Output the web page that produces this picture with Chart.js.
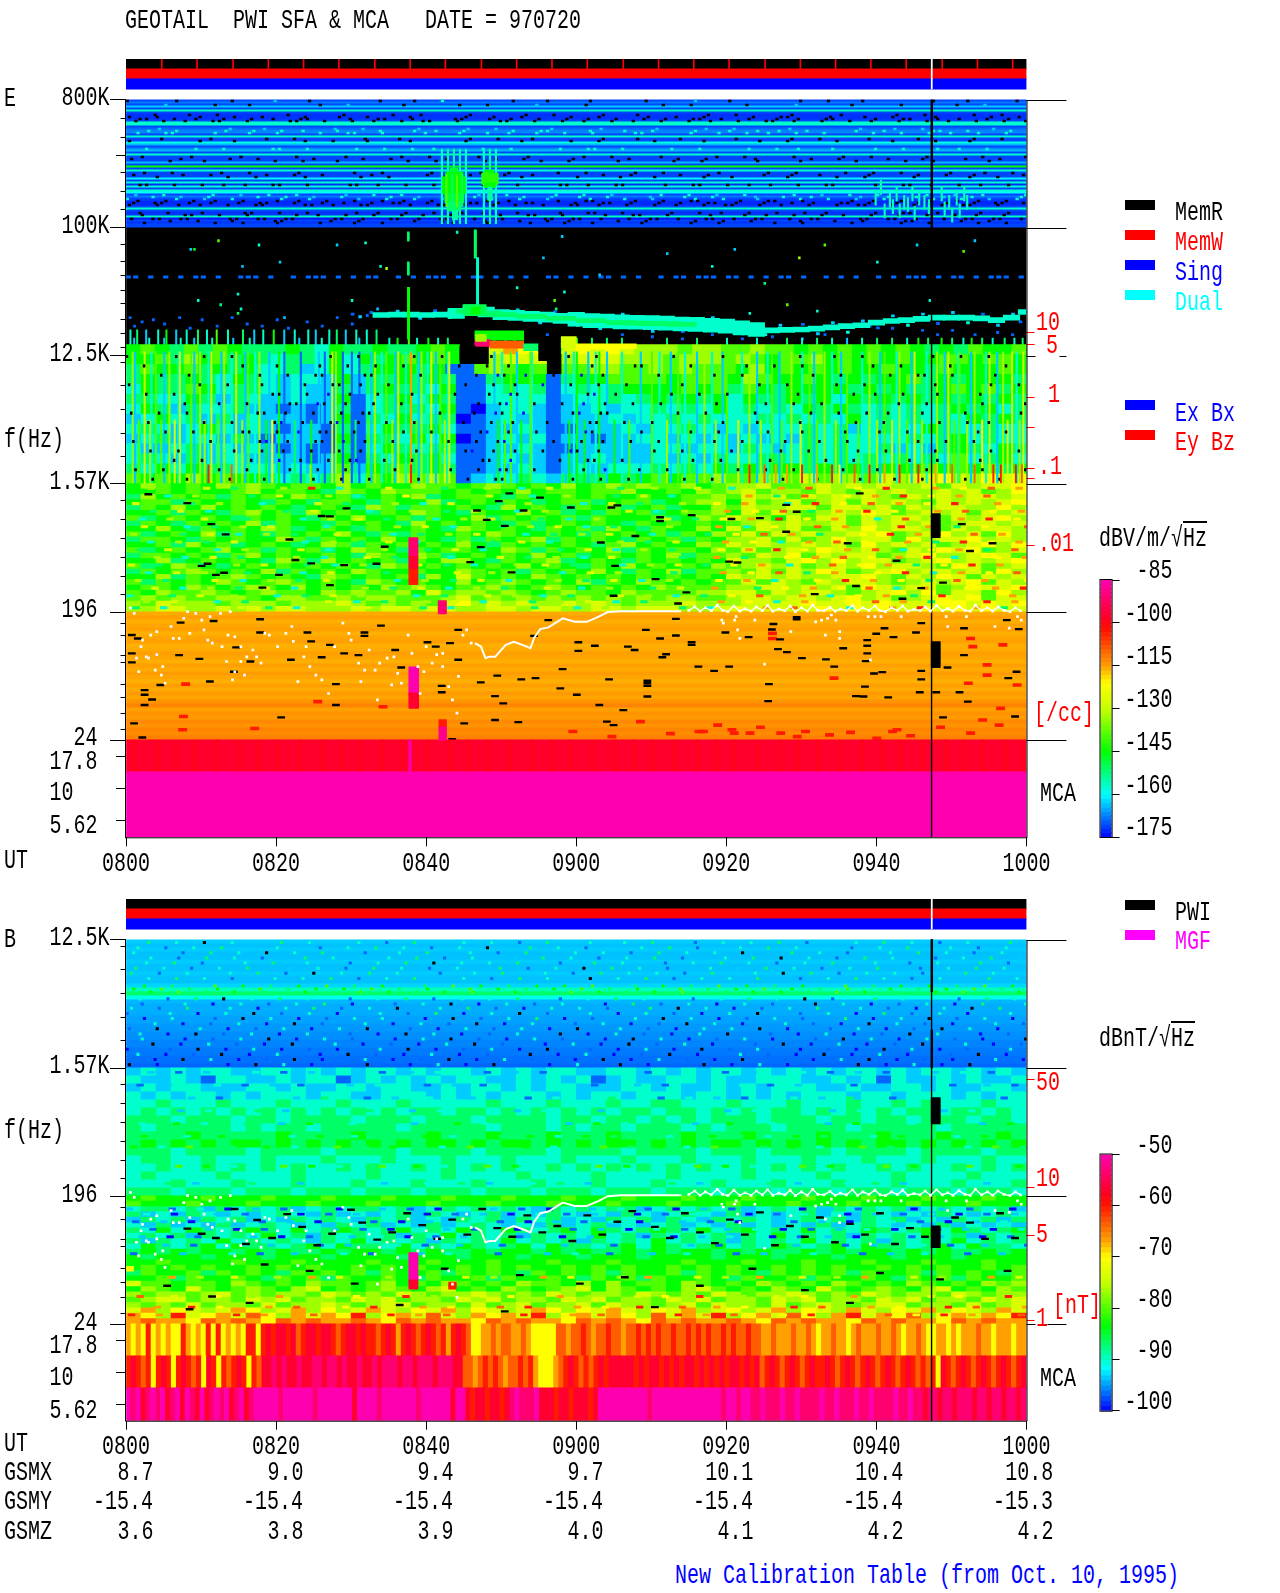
<!DOCTYPE html>
<html><head><meta charset="utf-8"><title>GEOTAIL PWI SFA & MCA</title>
<script src="https://cdn.jsdelivr.net/npm/chart.js@4"></script>
<style>
html,body{margin:0;padding:0;background:#fff;width:1280px;height:1593px;overflow:hidden}
canvas{position:absolute;display:block}
.t{position:absolute;font:28px/1 "Liberation Mono",monospace;white-space:pre;color:#000}
.ov{text-decoration:overline}
</style></head><body>
<canvas id="cE" width="1280" height="880" style="left:0;top:0"></canvas>
<canvas id="cB" width="1280" height="600" style="left:0;top:880px"></canvas>
<canvas id="cbE" width="110" height="300" style="left:1090px;top:560px"></canvas>
<canvas id="cbB" width="110" height="300" style="left:1090px;top:1135px"></canvas>
<script>
// ---------- axes ----------
const timeLabels=['0800','0820','0840','0900','0920','0940','1000'];
const gsmX=['8.7','9.0','9.4','9.7','10.1','10.4','10.8'];
const gsmY=['-15.4','-15.4','-15.4','-15.4','-15.4','-15.4','-15.3'];
const gsmZ=['3.6','3.8','3.9','4.0','4.1','4.2','4.2'];
// y position = octaves below 800 kHz. MCA channels sit below 15.
const eFreqTicks=[0,3,6,9,12,15,15.55,16.29,17.06];
const eFreqLabels=['800K','100K','12.5K','1.57K','196 ','24 ','17.8 ','10   ','5.62 '];
const bFreqTicks=[6,9,12,15,15.55,16.29,17.06];
const bFreqLabels=['12.5K','1.57K','196 ','24 ','17.8 ','10   ','5.62 '];
const mcaTicks=[15.375,16.125,16.875];
const minorTicks=[.43,.86,1.68,2.13,2.55,3.38,3.77,4.1,4.46,4.77,5.14,5.45,5.8,6.13,6.68,7.24,7.8,8.34,9.37,9.83,10.27,10.72,11.16,11.58,12.25,12.53,13,13.17,13.69,14,14.37,14.74];
const eDensityTicks=[5.44,5.72,6.95,7.66,8.62,8.86,10.43];
const bFieldTicks=[9.26,11.79,12.91,14.9];
const eColorTicks=[-175,-160,-145,-130,-115,-100,-85];
const bColorTicks=[-100,-90,-80,-70,-60,-50];
// ---------- colour scale stops (fraction of range) ----------
const mapStops=[[0,[0,0,255]],[.1667,[0,255,255]],[.3333,[0,255,0]],[.5,[196,255,0]],[.6,[255,255,0]],[.667,[255,160,0]],[.81,[255,16,0]],[.85,[255,0,32]],[1,[255,0,176]]];
// ---------- status strips ----------
const stripColors=['#000000','#ff0000','#0000ff'];
const memTicks=[4.7,9.4,14.2,18.9,23.6,28.3,33.1,37.8,42.5,47.3,52,56.7,61.4,66.2,70.9,75.6,80.3,85.1,89.8,94.5,99.2,103.9,108.7,113.4,118.1];
const gapTime=107.3;
// ---------- E panel: 100-800 kHz, level of every stripe ----------
const e1Rows=[.7,1.2,.7,2,.7,3.2,.7,.5,.5,.5,.7,3,3,.7,1,1.3,1.3,.7,3,.7,.7,2.8,1.8,.7,1.3,1.8,.7,3,.7,.7,.7,1.8,.7,5,.7,3,.7,.7,.7,2.4,.7,3,.4,3,.7,3,2.5,.7,1.2,.7,.5,.4,.4,.7,3,.7,.5,.5,3.2,.2,.7,.5,.7,.7];
const e1Specks=[
"x..x...x.2..x...x..x.3...x..x.x...x..2..x...x.x..x...x..x..x",
"..2..x..x...x.2...x...x.x..2..x....x.x...x..2...x..x...x.2..",
".x..x.x...x...x..x.x..x...x.x..x..x...x.x...x..x...x.x..x.x.",
"x.x.x..x.x.x..x.x.x...x.x.x..x.x..x.x.x..x.xx.x..x.x.x...x.x",
"xx.xx.x.xx.xx.x.xx.x.xx.xx.x.xx.x.xx.xxx.x.xx.xx.x.xx.xx.xx.",
"x.xx.xx.x.xx.x.xx.xxx.x.xx.x.xx.xx.x.xx.x.xxx.x.xx.x.xx.x.xx",
"..2...2..2...2.2...2..2.2...2..2...2..2.2...2...2..2.2...2..",
".3.3..3.3.33..3.3..33.3..3.33.3..3.3.3..3.33.3..3.3..33.3.3.",
"3.33.3..3.3.3.33.3.3..3.33.3.3.3.33..3.3.33.3.3..3.3.33.3.3.",
"..x..x...x.x...x..x...x.x..x...x..x.x...x...x.x..x..x...x.x.",
"x...x..x...x.x..x.x...x...x..x.x...x..x...x.x..x...x.x..x...",
".3..3.3..33.3..3.3.33..3.3..3.33.3..3.3..3.33..3.3.3..33.3..",
".x..x..x...x..x...x.x..x..x...x.x..x...x.x..x..x.x...x...x.x",
"x..x..x.x...x..x.x...x..x.x..x...x..x.x..x...x.x..x..x.x..x.",
"..x..x...x.x..x...x.x..x...x.x..x...x.x...x.x...x..x.x...x..",
".x.x..x.x..x...x.x..x..x.x..x.x..x.x...x..x.x..x.x.x..x..x.x",
"x..x.x...x.x.x..x...x.x..x.x...x.x..x.x...x.x.x..x..x.x.x..x",
"..x...x.x..x...x.x...x..x.x...x.x..x..x.x...x..x.x..x...x.x.",
"xx.x.xxx.xx.x.xxx.x.xx.xx.x.xxx.xx.x.xx.xxx.x.xx.x.xxx.xx.x.",
"2.3..3.2.3.3..2.3.3..3.2.3..3.3.2..3.3.2.3..3.2.3.3..3.2.3.3",
".3.2.3..3.3.2.3..3.2.3.3..3.2.3.3.2..3.3.2.3.3..2.3.3.2.3..3",
"3..3.2.3..3.3..2.3.3.2..3.3.2.3..3.2.3.3..2.3.3.2.3..3.3.2.3",
"x.x.xx.x..xx.x.x.xx.x.x.xx..x.xx.x.x.xx.x.xx.x..xx.x.x.xx.x.",
"xxx.xx.xxx.x.xx.xxx.x.xxx.xx.x.xxx.xx.xxx.x.xx.xxx.xx.x.xxxx",
"x.xxx.x.xx.xxx.xx.x.xxx.xx.x.xxx.x.xx.xxx.xx.x.xxx.xx.xxx.x.",
"x.x..x.xx.x.x..xx.x.x.xx..x.x.xx.x..x.xx.x.x.xx..x.xx.x.x.x.",
".x.xx.x.x..xx.x.x.xx.x..x.xx.x.x.xx.x.x..xx.x.xx.x.x.x.xx.x.",
"xxxxx.xxxxxx.xxx.xxxxx.xxx.xxxxx.xxxx.xxxxx.xxx.xxxxx.xxxxxx",
"..x.x..x.xx..x.x...x.x.x..x.xx..x.x..x.x.x..x..x.x.xx..x.x..",
".x...x.x..x.x..x.x...x..x.x..x.x..x..x.x...x.x..x..x.x..x.x.",
];
const e1SpeckRows=[0,2,7,8,9,10,14,15,16,19,20,24,28,29,30,36,37,38,42,47,48,49,50,51,52,56,57,59,60,61];
// [t0,t1,octTop,octBottom,level]: emission blobs at 60-80 kHz
const e1Blobs=[[43.2,44.2,1.6,1.7,4.5],[42.6,44.9,1.7,1.8,5],[42.2,45.2,1.8,2.2,5],[42.5,45,2.2,2.4,4.5],[43,44.6,2.4,2.6,4],[43.5,44.2,2.6,2.8,3.4],[47.8,49,1.65,1.72,5],[47.4,49.6,1.72,1.95,5.5],[47.8,49.2,1.95,2.05,5],[48.2,48.8,2.05,2.35,3.4]];
const e1BlobHalo=[[42,3],[42.8,3.5],[43.6,3.5],[44.4,3.4],[45.2,3],[47.6,3],[48.4,3.4],[49.2,3]];
const e1BlobLines=[[42.6,6],[43.4,4],[44,6],[44.7,4.2]];
const e1Faint=[[100.5,2.05],[101.7,2.35],[102.6,2.2],[103.6,2.4],[104.7,2.2],[105.6,2.3],[106.3,2.4],[108.6,2.2],[109.6,2.4],[110.6,2.3],[111.6,2.2],[101,2.6],[103,2.6],[105,2.65],[110,2.7],[99.8,2.3],[102.1,2.5],[104.1,2.45],[106.9,2.5],[109,2.55],[111,2.6],[112,2.4]];
// ---------- E panel: 12.5-100 kHz: mostly no signal ----------
const e2Line="11.1.1.1.11.1..111.1..1.111.1.1.11..1.1.111.1.11.1.1.1..11.1.1.11.1.1..1.11.111.11.1.1.11.1..1.1.1..1.1.111.1.11.1.111.1";
const e2Dots=[[9,3.5,5],[12.2,3.3,6],[8.5,3.5,2],[15.4,3.9,2],[17.6,3.4,3],[20.4,3.8,2],[28,3.4,2],[31.8,3.35,3],[33.8,3.9,3],[34.6,3.95,7],[44,3.1,3],[52,4.4,3],[55.5,3.7,2],[58,3.2,2],[63,4.1,2],[72,3.6,2],[78,3.9,3],[81,3.5,2],[85,4.3,4],[89.6,3.7,7],[93,3.4,6],[100,3.8,3],[105.3,3.4,2],[111.5,3.55,6],[113,3.3,2],[9.5,4.7,3],[12.5,4.8,4],[14.8,4.55,3],[15.2,4.9,3],[30,4.7,3],[57,4.7,6],[57.2,4.9,4],[58.3,4.5,3],[83,5,3],[88,4.8,6],[92,4.95,3],[107,4.7,3],[14.8,5,4],[21,5.1,2],[33.4,4.9,2]];
const e2Columns=[[37.5,37.75,3.1,3.3,4],[37.5,37.75,3.8,4.1,4],[37.5,37.8,4.4,5.6,5],[46.4,46.7,3.05,3.7,4],[46.7,47,3.7,4.9,3],[45,48,4.8,5.05,4.2],[46,47.2,4.86,4.98,5]];
const ribbonT=[34,36,38,40,42,44,46,48,50,52,54,56,58,60,62,64,66,68,70,72,74,76,78,80,82,84,86,88,90,92,94,96,98,100,102,104,106,108,110,112,114,116,118,120];
const ribbonOct=[5.04,5.03,5.03,5.04,5.03,5,4.92,4.97,5.03,5.05,5.07,5.09,5.12,5.14,5.17,5.18,5.2,5.21,5.22,5.23,5.25,5.26,5.28,5.3,5.34,5.38,5.4,5.39,5.38,5.36,5.33,5.3,5.28,5.22,5.18,5.16,5.13,5.1,5.1,5.1,5.12,5.16,5.1,4.97];
const ribbonCoreT=[46,48,50,54,58,62,66,68,70,72,74];
const ribbonCoreOct=[4.95,5,5.03,5.07,5.12,5.17,5.22,5.23,5.24,5.24,5.26];
const ribbonFuzz=[[30,5.02,1],[31,5.08,2],[32.5,4.98,1],[36,4.95,2],[39,5.12,2],[41,4.94,1],[43,5.1,3],[52,4.92,2],[55,5.22,2],[57,4.96,1],[60,5.28,3],[63,5.36,2],[66,5.02,2],[70,5.42,2],[74,5.43,1],[78,5.1,2],[82,5.48,2],[85,5.5,3],[87,5.28,2],[90,5.26,1],[92,5.48,2],[94,5.22,2],[96,5.44,3],[98,5.18,2],[100,5.34,1],[102,5.06,2],[104,5.28,3],[106,5.02,2],[108,5.24,1],[110,4.98,2],[112,5.22,3],[114,5.02,1],[116,5.28,2],[118,5.02,2],[119,5.2,1]];
// ---------- E panel: 1.57-12.5 kHz, 2 minute columns ----------
const e3Grid=[
"56546465444543544544565xx8a99589898777677667665656565654546 56".replace(/ /g,'5'),
"556475645434435354565 5xx7888x78887776777676566756565655 65665".replace(/ /g,'6'),
"465564545334235345554511676 6x667766767666575656565565546 5565".replace(/ /g,'5'),
"454454354323325244545411455514556666566657655654545564545554",
"354465344323224245443511343413434555565646545555454544565645",
"443354243223225134535411333312334345454535445453545454545454",
"354243342212124134443510233212232334343534343545434343454534",
"235342423222125143534401232212223233434333434343534343435454",
"343235323212214135445311223211222323343232333434234335433433",
"234233242122215144353501232312212233232323232434333343453433",
"322342323212114135434411223211222223323324323434334232454354",
"343242332222125143545311232212232223232433443434343434363453",
"435354433323226254645411223212323334343545455454545556565645",
"656575655434347365767612334324445456566766776867768788987989"];
const e3Specks=[
"x..x.x.x.....x.x...x.x.xx..x.x.x....x..x....x..x.x...x.x.x..",
".x.....x..x.x.x.x.x...x.xx.....x.xx..x...x.x.x...x.x..x...x.",
"..x.x...x.x.xx.xx..x...x0x0.x.0x...x...x.x...x.x..x.xx.x.x..",
"x...x.x..x.x.xxx.x....x.xx.0.x.x.x...x....x.x..x.x...x...x.x",
".x.x.....xx.x0x.x..x.x..x0x...x0x...x.x.x...x...xx.x..x.x...",
"...x..x.x.xx0xx.x.x....xx0.x.x0x.x.x...x..x.x.x....x.x...x.x",
"x.x.x...xxx.x.xxx...x..x0x0..x0xx...x.x..x...x.x.xx..x.x...x",
".x...x.x.x0x.x0x.x.x..x.xx..x.xx.x.x...x..x.x...x.x...x.xx..",
"..x.x..xx.x0xx.x..x.x..x0x.x..0x..x..x.x..x..x.x..x.x...x.x.",
"x....x..x0x.xx0x.x...x.xx0..x.xx.x.x...x.x.x..x.x...x.x.x...",
".x.x...x.xx.x.xx...x..x0xx.x.0xx...x.x..x..x.x..x.x..x...x.x",
"...x.x..x.0x.xx0.x.x...xx0..x.xx.x...x.x..x...x.x...x.x.x...",
"x.x...x.x.x.x.x..x...x.x0x.x..x0..x.x...x.x.x..x..x..x...x.x",
".x..x.x..x..x.x.x..x..x.xx...x.x.x...x.x...x..x.x..x.x.x..x."];
// [time, level]: narrow bursts
const e3TallStreaks=[[.8,7],[2.4,8],[3.9,6],[5.7,7],[7.1,8],[8.6,6],[9.8,7],[11.3,8],[13,7],[14.6,8],[16.2,6],[17.7,7],[20.3,5],[27.4,8],[27.9,7],[33.1,7],[34.6,6],[36.2,8],[37.9,10],[39.3,7],[40.6,8],[41.8,6],[43,8],[51.2,6],[53.8,6],[60,5],[63,5],[70,6],[73.5,6],[77,7],[80,6],[83,7],[86,6],[88.6,7],[91,6],[93,7],[96,6],[99,7],[101,6],[103,7],[105,8],[108,7],[109.5,8],[111,6],[113,7],[115,8],[116.8,7],[118,8],[119.5,8]];
const e3LowStreaks=[[1.6,6],[3.1,7],[4.6,6],[6.4,8],[10.4,7],[12.2,6],[15.4,7],[18.6,5],[19.4,9],[22.4,4],[24.6,5],[30.5,4],[32.2,6],[35.4,7],[38.6,6],[42.4,7],[49.5,5],[50.4,6],[52.6,5],[59,5],[61,5],[65,5],[67,6],[72,7],[75,6],[78.5,7],[81.5,8],[84.5,7],[87.3,6],[89.8,8],[92,6],[94.5,7],[97.5,6],[100,7],[102,8],[104,6],[106,7],[110.3,6],[112,7],[114,9],[117.4,8],[119,7]];
const e3CoolStreaks=[[1.1,2],[3.3,3],[5,2],[6.9,3],[9,2],[10.9,3],[12.6,2],[14,3],[15.8,2],[17.1,3],[19,2],[21,1],[23.2,1],[25.6,2],[26.4,1],[28.8,1],[30,1],[31,1],[32.6,2],[34,3],[35.8,2],[37.2,3],[38.9,2],[40.1,3],[41.2,2],[42.8,3],[49,2],[50,3],[52,2],[54,3],[58.5,2],[59.6,3],[61.5,2],[62.5,3],[64,2],[66,3],[68.5,2],[71,3],[72.5,2],[74.4,3],[76,2],[78,3],[79.4,2],[82,3],[84,2],[85.4,3],[87,2],[90,3],[91.6,2],[94,3],[95.2,2],[98,3],[100.4,2],[102.6,3],[104.6,2],[106.6,3],[109,2],[110.8,3],[112.5,2],[114.5,3],[116,2],[118.6,3]];
const e3Tips=[[14,11],[10.9,12],[24.5,7],[37.9,12],[42.4,8],[83,12],[85,11],[88,10],[90,12],[92,10],[94,12],[97,11],[99,12],[101,10],[103,12],[105.5,12],[110,11],[113,11],[115.5,12],[116.5,12],[118.5,12],[119.3,11],[86.5,10],[95,9],[107.8,10]];
const e3Tops=[[.5,3],[1.4,4],[2.6,2],[4.2,3],[5.3,5],[6.6,2],[8,3],[9.5,4],[10.7,3],[12,6],[13.5,3],[15.5,4],[17,2],[18.2,3],[19.6,5],[21,2],[22.4,3],[24.2,3],[25.2,2],[27,3],[28,4],[29.2,2],[30.6,3],[32,3],[33.3,4]];
const e3TopsShort=[[1,2],[3,3],[5,2],[7.2,3],[9,2],[11.4,3],[14.2,2],[16.4,3],[23,2],[26,3],[31,2],[35,3],[36.1,5],[37.6,6],[38.7,3],[40.2,5],[41.5,3],[42.8,4],[46.8,7],[47.6,6],[49,5],[50.5,5],[51.7,4],[58.3,6],[60,5],[62,4],[64,4],[66,4],[72,4],[76,4],[80,3],[84,3],[88,4],[90,3],[92,4],[94,3],[96,2],[98,3],[100,4],[102,4],[104,3],[105.5,5],[106.8,4],[108.6,5],[110,4],[111.5,3],[112.6,5],[114,4],[115.4,3],[117,4],[118.3,3],[119.4,4]];
const e3TopBlue=[[.4,5.1],[1,5.3],[2,5.2],[3.5,5.15],[5,5.25],[7,5.1],[8.4,5.35],[10,5.15],[12,5.3],[14,5.1],[16,5.25],[18,5.3],[20,5.15],[21.5,5.35],[24,5.2],[26,5.3],[28,5.1],[30,5.25],[32,5.05],[56,5.5],[66,5.5],[70,5.55],[74,5.6],[78,5.5],[82,5.6],[86,5.55],[90,5.6],[93,5.5],[96,5.45],[99,5.3],[102,5.35],[104,5.2],[106,5.4],[108,5.5],[110,5.4],[113,5.5],[116,5.45],[118,5.5]];
// [t0,t1,octTop,octBottom,level]
const e3Patches=[[46.5,53,5.42,5.62,5],[46.5,48.5,5.62,5.74,14],[48.5,53,5.66,5.78,11],[53,58,5.72,5.86,4],[44.5,46.6,5.78,6.1,-1],[55,57.9,5.7,6.1,-1],[46.6,48,5.5,5.62,7],[58,60,5.55,5.8,8],[60,68,5.72,5.82,9]];
// ---------- E panel: 196 Hz - 1.57 kHz, 2 minute columns ----------
const e4Grid=[
"576565767656657565576656765657567676675677866787878778687889",
"556565567566547657666565657566566755657678677687687877878679",
"475656465657656456574566546556565565566768786878787687878878",
"566465565465466546557456565456645664567758678678687876878789",
"465757565654565476466565475654656456455768778868878687887797",
"556465467564756546576546557564546564566758687678798678786878",
"645656546565465755646557465656465556457687758688687887687897",
"465465657465546565475656546456565465656567878778687878678878",
"557546565764565465565476565465647546557586878668797887687887",
"645657465465657546465565765565465656465768687877889678978697",
"466546565576465657565464656746565465646577868679788697889787",
"556475645654576465656575465656546756557687877878697878678979",
"645656756465645765465665576465657465665768678798787687989678",
"466565467565565476576456565756456565746676879687886789778986",
"557456565476475656465775465674565465656587768979788678978789",
"645765456565656547656565657565465756565767878678797887698678",
"465676565746565765565576564656575465746676868798678978878697",
"557465676565476565647586565765656565656587878778897687986878",
"646565765676565476565575676565746576565668687687887678789687",
"566576567657565657676566765676565657666677887878698788679889",
"657667656766576766758677676567665766667788687887678979688697",
"676766776577667677666786767676767676776678878878978678989688",
"768777677767778767676897878778787677787778888988989888998989",
"778877878788777878878877887887788788877888888898989889898988"];
const e4Fine=[
".7...8.4..7.c.3..8...4.7..3.8...4..7.8..3..a.b..9.c..a.9.b.a",
"..3.7...4.8..7.3..9.4...8.3..7..4.8.3..7.a.4.b.9.a.c.9.a.b..",
"8...4.7.3...8.4..7.3.8..4.7...3.8.4.7..9.a.3.c.9.b.a.9.c.a.9",
".4.8.3..7.4.8...3.7..4.8.3.7.4...8.3.7.a.9.b.4.a.c.9.a.b.9.a",
"3.7..8.4...3.7.8.4..3.7.8..4.3.7...8.4.9.a.c.9.a.3.b.9.a.c.9",
".8.3.4.7.8...3.4.7.8.3..4.7.8.3.4...7..a.3.9.b.a.9.c.a.4.9.b",
"7..4.8.3.7.4.8...3.4.7.8..3.4.7.8.3...4.9.b.a.4.9.c.a.9.b.a.",
".3.7.4.8...3.7.4.8.3..7.4.8.3...7.4.8..a.9.3.a.b.9.a.4.c.9.a",
"4.8..3.7.4.8.3...7.4.8.3.7..4.8.3.7.4..9.a.c.9.a.b.3.9.a.4.b",
".7.3.8.4...7.3.8.4.7.3..8.4.7.3.8...4..a.4.9.a.b.9.a.c.3.9.a",
"8.4.3..7.8.4.3.7...8.4.3.7.8.4..3.7.8.4.9.a.3.b.9.a.4.9.c.a.",
".3.8.7.4...3.8.7.4.3.8..7.4.3.8.7...4..a.9.b.4.a.9.c.3.a.9.b",
"7.4..8.3.7.4.8...3.7.4.8.3..7.4.8.3.7..9.a.3.9.c.a.9.4.b.a.9",
".8.3.7.4.8.3...7.4.8.3.7.4.8..3.7.4.8..a.4.9.a.9.b.3.a.9.a.c",
"3.4.8..7.3.4.8.7...3.4.8.7.3.4..8.7.3.4.9.b.a.3.9.a.4.c.9.a.",
".7.8.3.4...7.8.3.4.7.8.3..4.7.8.3.4.7..a.9.3.a.9.b.a.4.9.c.a",
"4.3.7..8.4.3.7.8...4.3.7.8.4.3.7..8.4.3.9.a.b.9.3.a.c.9.a.4."];
const e4FineOct=[9.1,9.28,9.46,9.64,9.82,10,10.18,10.36,10.54,10.72,10.9,11.08,11.26,11.44,11.62,11.76,11.9];
// [time, octaves] short gaps in the data
const eDashes=[[2.5,9.24],[7.7,9.45],[10.9,9.94],[12.8,10.18],[21.3,10.3],[25.6,9.75],[26.7,9.76],[28.9,9.57],[52.5,9.62],[50.6,9.22],[54.7,9.32],[64.2,9.55],[65,9.5],[58.8,9.55],[47.6,9.84],[46.3,9.62],[49.2,9.4],[50,9.98],[9.6,10.92],[10.4,10.87],[11.5,11.13],[12.6,11.08],[19.9,11.13],[17.7,11.43],[22.1,10.78],[24.2,10.86],[28.6,10.9],[32.9,10.87],[34,10.47],[45.4,10.83],[46.8,10.48],[50.9,11.07],[64.5,11.62],[64.7,10.92],[67.4,10.22],[62.8,10.37],[26.7,11.37],[70.7,9.78],[70.7,9.87],[74.9,9.73],[80.2,9.82],[84,9.8],[87.5,9.49],[88.9,9.65],[87.5,10.12],[97.3,9.22],[79.9,10.82],[81,10.84],[70.1,11.23],[74.2,11.54],[73.1,11.8],[91.3,11.58],[96.8,11.39],[102.2,10.8],[105.5,11.44],[110.9,9.94],[108.4,11.31],[112,10.57],[115,10.39],[103,11.69],[95.7,10.39],
[.3,12.54],[1.1,12.62],[.3,12.97],[.3,13.18],[2,13.83],[2,13.94],[3,14.05],[2,14.18],[.6,14.61],[1.7,14.94],[4.1,13.71],[6.6,13.01],[6.8,12.25],[9.3,13.1],[10.7,13.63],[11.2,12.21],[17.4,12.17],[17.4,12.48],[14.2,12.83],[13.9,13.4],[16.1,13.16],[20.2,14.47],[21.5,13.12],[23.7,12.48],[24.2,12.69],[25.6,13.06],[26.7,12.77],[27.5,13.69],[27.5,14.18],[28.6,12.97],[30.5,13.01],[31.3,12.48],[31.3,12.56],[33.5,12.32],[35.4,12.89],[36.2,13.3],[39.7,12.71],[40.8,12.81],[42.7,12.73],[43.8,12.42],[43.8,13.12],[41.6,13.73],[41.6,13.88],[44.6,14.61],[43,14.98],[46.8,13.65],[48.7,14.53],[49,13.49],[48.7,13.97],[49.8,14.14],[51.8,14.58],[52.2,13.58],[54.1,13.55],[53.9,12.56],[55.8,12.19],[57.7,13.34],[57.4,13.79],[59.6,13.94],[59.8,12.71],[59.8,12.91],[62,12.79],[62.6,14.18],[63.6,14.57],[64.5,14.65],[63.9,13.58],[66.4,12.81],[67.3,12.89],[65.8,14.3],
[68.8,12.42],[70.7,12.62],[72.8,12.16],[72.8,12.55],[74.9,12.71],[74.9,12.77],[71.5,12.99],[71,13.06],[69,13.61],[69,13.67],[69,13.73],[69,13.98],[75.8,13.28],[77.9,13.38],[79.4,12.48],[79.9,13.28],[82.5,12.59],[85.1,14.09],[85.2,13.69],[85.8,12.28],[85.6,12.41],[86.7,12.64],[86.4,12.87],[87.6,12.94],[88.9,12.12],[88.9,12.17],[89.6,13.08],[92.8,13.11],[93.9,13.28],[95.1,12.85],[96.8,13.97],[97.8,13.98],[98,13.75],[98.3,12.66],[98.3,12.79],[98.3,12.97],[98.1,13.15],[99.5,12.51],[99.2,13.44],[100.3,13.41],[100.6,12.38],[101.1,14],[101.8,12.59],[105.5,13.38],[105.5,13.58],[104.8,12.48],[105.5,12.26],[105.3,13.88],[107.5,13.88],[110.6,13.88],[111.2,13.01],[111.2,12.38],[111.7,14.1],[117.1,13.55],[116.9,12.19],[118.5,12.4],[118.2,13.4],[118,14.45],[108.4,14.47],[109,13.3]];
// ---------- E panel: 24-196 Hz, orange rows ----------
const e5Rows=[9.9,10,9.85,9.95,10,9.85,9.95,10,9.85,9.9,10,9.95,9.85,10,9.9,10.05,9.95,9.85,10,9.9,10.1,9.95,10.2,10.4,10,10.2,10.1,10.35,10.2,10.4,10.3,10.5];
const e5Hot=[[75.8,14.8],[76.4,14.8],[78.3,14.65],[80.2,14.76],[80.5,14.84],[82.6,14.84],[86.7,14.84],[88.9,14.92],[93.2,14.88],[99.5,14.96],[101.6,14.8],[112,14.84],[113.6,14.53],[116,14.26],[115.8,14.65],[112,12.62],[112.3,12.81],[85.6,12.5],[85.6,12.62],[116.3,12.77],[114.2,13.24],[114.2,13.48],[118.2,13.71],[111.7,13.67],[93.8,13.55],[102.2,14.76],[7.1,14.45],[7,14.76],[33.7,14.22],[25,14.1],[16.6,14.73],[7.4,13.69],[59,14.8],[64.2,14.92],[68,14.57],[72,14.85],[84,14.7],[90,14.8],[96,14.82],[104,14.9],[108,14.7]];
const eHotColumns=[[37.7,38.9,10.26,10.7,14],[37.7,38.9,10.7,11,13],[37.7,38.9,11,11.32,12],[41.6,42.7,11.74,12,14],[37.7,39,13.29,13.9,15],[37.7,39,13.9,14.25,13],[41.7,42.7,14.53,14.7,12],[41.7,42.7,14.7,15,14.4],[37.7,38,15,15.75,15]];
const dataGaps=[[107.3,108.5,9.7,10.24,-1],[107.3,108.5,12.7,13.26,-1]];
const eMcaRed=12.95;
const eMcaLow=15;
const eMcaStripes=[1,4,6.5,9,12,15,17.5,20,23,26,28.5,31,34,36.5,40,43,45.5,48,51,54,56.5,59,62,65,67.5,70,73,76,78.5,81,84,87,89.5,92,95,98,100.5,103,106,109,111.5,114,117,119.5];
// ---------- plasma-line trace, same channels in both panels ----------
const traceT=[46.5,47.3,47.9,48.4,49.2,50.6,51.7,52.8,53.9,54.4,55.2,56.3,58.2,59.8,61.4,63,64.2,66,70,74];
const traceOct=[12.73,12.81,13.08,13.05,13.05,12.77,12.7,12.77,12.85,12.6,12.4,12.36,12.15,12.23,12.23,12.11,12,11.98,11.98,11.98];
const traceTailT=[75,75.8,76.5,77.2,78,78.8,79.5,80.2,81,81.8,82.5,83.3,84,84.8,85.5,86.2,87,87.8,88.5,89.2,90,90.8,91.5,92.2,93,93.8,94.5,95.2,96,96.8,97.5,98.2,99,99.8,100.5,101.2,102,102.8,103.5,104.2,105,105.8,106.5,107.2,108,108.8,109.5,110.2,111,111.8,112.5,113.2,114,114.8,115.5,116.2,117,117.8,118.5,119.2];
const traceTailOct=[11.96,11.88,11.98,11.9,11.97,11.84,11.96,11.99,11.86,11.98,11.92,11.98,11.88,11.97,11.85,11.98,11.93,11.97,11.86,11.99,11.9,11.98,11.84,11.96,11.97,11.89,11.98,11.93,11.97,11.85,11.98,11.9,11.96,11.86,11.97,11.99,11.9,11.96,11.86,11.98,11.94,11.97,11.88,11.98,11.85,11.97,11.92,11.98,11.87,11.96,11.98,11.84,11.97,11.9,11.98,11.88,11.96,11.99,11.9,11.97];
const traceDots=[[.6,11.91],[1.1,12.03],[8.2,11.99],[9.3,12.03],[10.1,12.19],[11.2,12.11],[12.6,12.03],[13.9,11.99],[7.7,12.15],[4.1,12.46],[3.3,12.54],[2,12.81],[2.2,12.66],[1.4,13.08],[2.7,13.05],[3,13.08],[4.1,13],[1.7,13.4],[3.9,13.36],[4.9,13.28],[4.7,13.48],[5.2,13.67],[6,12.34],[6.3,12.62],[7.1,12.62],[8.5,12.5],[10.4,12.42],[10.9,12.66],[11.5,12.73],[12.8,12.81],[13.6,12.54],[14.5,12.58],[15.3,12.81],[16.9,12.89],[17.4,13.05],[18,13.2],[16.1,13.05],[15.3,13.16],[13.4,13.16],[14.5,13.4],[15.8,13.48],[14.2,13.59],[18.5,12.5],[19.1,12.54],[20.2,12.81],[21.3,12.5],[22.1,12.34],[22.3,12.69],[24,12.81],[23.7,13.05],[24.5,13.28],[25.3,13.48],[26.1,13.59],[27,13.91],[22.9,13.63],[27.8,12.81],[28.9,12.26],[29.7,12.5],[30,12.66],[31,13.2],[31.8,13.36],[33.2,13.36],[31.3,13.63],[32.4,12.89],[33.5,14.06],[33.8,13.2],[34.8,13.08],[35.7,13.05],[36.2,13.44],[36.7,13.67],[35.4,13.71],[37.6,12.54],[38.1,12.97],[38.9,13.28],[40,12.81],[41.4,13],[42.2,12.97],[40.8,13.2],[39.2,13.91],[39.7,13.4],[42.2,13.28],[43,13.75],[43.5,14.06],[44.1,14.37],[44.3,13.51],[44.9,12.54],[45.4,12.42],[46,12.73],[79.4,12.19],[79.6,12.26],[81.3,12.11],[81.1,12.19],[83.8,12.19],[81.5,12.42],[81.8,12.62],[88.6,12.46],[91.9,12.23],[92.7,12.19],[93.5,12.15],[94,12.07],[94.6,12.19],[95.1,12.46],[95.1,12.62],[93.2,12.54],[85.1,13.22],[99.2,13.12],[99.8,12.11],[98.9,12.11],[100.6,12.11],[103.3,12.11],[109.3,12.11],[109.5,12.34],[112,12.11],[115.8,12.34],[117.7,12.38],[118.8,12.11],[119.3,12.19]];
// ---------- B panel: 1.57-12.5 kHz ----------
const b1Rows=[2,1.9,2,1.9,1.9,2,1.9,1.9,2,1.9,1.9,2.1,3.2,4,2.7,1.8,1.7,1.7,1.7,1.6,1.6,1.5,1.5,1.4,1.4,1.3,1.3,1.2,1.2,1.1,1.1,1];
const b1Specks=[
".4.3.x.3..4.3..3.1.4..3.3.1.4.3..3.4.1.3.3.4.1..3.4.3.1.3.4.",
"3.1.3.4.2.3.1.3.4.3.1.3.x.4.3.1.2.3.4.1.3.4.3.2.1.3.4.3.1.3.",
"3..1.4.3.x.3.4.1..3.4.3.1.4..3.3.1.4.3.3.x..4.3.1.3.4.3.1.3.",
".3.1.4.3.1.4.3.2.3.4.1.3.2.4.3.1.3.4.1.3.4.x.3.1.4.3.1.3.4.2",
".3.4.1.3.4..3.1.3.4.x.3.3.4.1..4.3.1.3.4.3.1.3.4.3..1.3.4.1.",
"4.3.1.3.4.2.3.1.4.3.1.3.4.1.3.x.4.3.1.3.2.4.3.1.3.4.1.3.4.3.",
"4.1.3.3.4.1.x.3.4.3.1..3.4.3.1.4.3.3.1.4.3.x.4.1.3.3.1.4.3..",
".3.4.3.1.3.3.4.1.3.4..3.1.4.3.x.3.4.1.3.3.4.1.3.4.3.1.3..4.3",
".5.4.6.5.4.5.6.4.5.4.6.5.4.5.5.6.4.5.4.6.5.4.5.6.4.5.5.4.6.5",
"5.6.4.5.6.4.5.5.6.4.5.6.5.4.5.6.4.5.6.4.5.6.5.4.6.5.4.5.6.4.",
".5.6.4.5.4.5.4.6.5.4.5.6.5.4.6.5.4.5.6.4.5.5.4.6.5.4.5.6.4.5",
"3.1.4.x.3.4.3.1.3.4.1.3.3.4.1.3.4.3..1.3.4.3.x.1.4.3.3.1.4.3",
".1.3.0.3.1.3.4.0.1.3.x.0.3.1.3.0.4.1.3.0.3.1.x.3.0.1.3.0.4.3",
"3.1.4.3.0.3.4.1.3.x.3.4.1.0.3.3.1.4.x.3.0.1.3.4.3.1.0.3.x.4.",
"1.3.0.3.x.1.3.0.3.1.4.0.3.x.1.3.0.3.1.0.3.x.1.3.0.4.1.3.0.3.",
".0.3.1.x.3.0.1.3.3.0.x.1.3.4.0.1.3.x.3.0.1.3.1.4.0.3.x.1.3.0",
".3.0.1.3.0.x.1.3.0.3.1.x.0.3.1.3.0.1.x.3.0.3.1.0.x.3.1.0.3.1",
"1.x.3.0.1.3.0.3.x.1.0.3.1.3.0.x.3.1.0.3.3.x.0.1.3.0.1.x.3.0.",
"3.0.x.1.3.0.3.1.0.x.3.0.1.3.x.0.3.1.0.3.x.1.0.3.0.1.x.3.0.1.",
".3.0.1.3.x.0.3.1.0.3.x.1.0.3.1.0.x.3.0.1.3.0.1.x.3.0.3.1.0.x",
".x.0.3.1.0.x.3.0.1.0.3.x.1.0.3.0.x.1.3.0.1.x.0.3.0.1.x.3.0.1",
"0.1.x.0.3.0.1.0.3.x.0.1.3.0.x.1.0.3.0.x.1.3.0.1.0.x.3.0.1.3.",
"3.0.1.x.0.3.0.x.1.0.3.0.1.x.0.3.0.1.x.0.3.1.0.x.0.3.0.1.x.0.",
".0.x.3.0.1.x.0.3.0.1.x.0.3.1.0.x.0.3.1.0.x.1.0.3.x.0.1.0.3.0",
"x.0.1.0.x.3.0.1.x.0.3.0.x.1.0.3.x.0.1.x.0.3.0.1.x.0.3.0.x.1."];
const b1SpeckOct=[6.06,6.18,6.3,6.42,6.54,6.66,6.78,6.9,7.08,7.15,7.22,7.38,7.5,7.6,7.72,7.84,7.96,8.08,8.2,8.32,8.44,8.56,8.68,8.8,8.92];
// ---------- B panel: 196 Hz - 1.57 kHz ----------
const b2Grid=[
"232323322332323233232332323233223323232332323232332323323232",
"322321332232331232323233223232312322332322333223231322323223",
"232332223323223323322323323233222332322323233322322332322332",
"323233232333233223332323233323233233323323232333233233323233",
"334333433343334333433333433343334334433343334333433434333433",
"343434343434343434344344343434343443443434344343434344344343",
"444344434434444344434443444434434434343444344434434434443443",
"434444434344344444344444344434344344434344434444344444344444",
"444454444454444544445444544454445444454445444454445444544454",
"454545455454545454545545455454545545454554545454545545454545",
"444344443444434444344443444434444344443444344443444434444344",
"344334333433343334333433343334333433343334333433343334333433",
"334334343434334343343434343343434343434334343434334343343434",
"343333433334333343333433334333343333433334333343333433334333",
"333433343334333433343334333433343334333433343334333433343334",
"444344434443444344434443444344434443444344434443444344434443"];
const b2Fine=[
".2.1.2..3.1.2...1.2.3..1.2.1..2.3.1.2..1.2..3.1.2.1..2.3.1.2",
"1.2..3.1.2.1..2.3..1.2.1.2...3.1.2.1.2..3.1.2...1.2.3.1..2.1",
"..3.2.1..3.2.4.1.2..3.2...1.3.2.4..1.3.2.1..3.2.4.1..3.2..1.",
".4.2.3..4.2.3...4.2.3.4..2.3.4.2...3.4.2.3.4..2.3.4...2.3.4.",
"3..5.3.4..2.5.3..4.2.5.3.4...2.5.3.4.2..5.3.4.2.5...3.4.2.5.",
".5.3..5.4.3.5..3.4.5.3..4.5.3.5.4...3.5.4.3.5.4..3.5.4.3.5..",
"5.3.6.4..5.3.6.4.5..3.6.4.5.3..6.4.5.3.6..4.5.3.6.4..5.3.6.4",
".3.6.5.3..6.5.3.6..5.3.6.5...3.6.5.3.6.5.3..6.5.3.6.5.3.6..5",
"3.4.2.3.4..2.3.4.2.3..4.2.3.4.2...3.4.2.3.4.2..3.4.2.3.4.2.."];
const b2FineOct=[9.1,9.4,9.7,10,10.3,10.6,10.85,11.3,11.7];
const b3Grid=[
"565556555655565556555655565556555655565556555655565556555655",
"655565556555655565556555655565556555655565556555655565556555",
"344342434342343443423434343243434423434342343424343423434342",
"423243232343242323424323423243232432343242323423243232432343",
"243424342324343243423243424342324342432434323434243423243424",
"324232423432324342324234323242342323423242323242343232423232",
"435354345435345434534354354345354345435345343534354345354345",
"343424343534243434243534342434353424343424353434243435342434",
"424343534343243534342434353434243435343424343534342434353434",
"354345354434535443534354345354434535434534354345354434535443",
"454545545454454554545445455454544545455454544545455454544545",
"545554555455545555455545554555455545555455545554555455545555",
"556555565556555565556555655565556555565556555655565556555655",
"565656556565655656565565656556565655656565565656556565655656",
"465564656546565646556465654656564655646565465656465564656546",
"556465565465646556546556465565465646556546556465565465646556",
"866566576565766567565765657665757566576565765657656576565767",
"576586567657856567657856576567857656578656576586567657856576",
"767767867677687676876778767687677687676876778767687677687677",
"678867768786776878677687867768786776878677687867768786776878",
"767686776867787678867768678677868776786877686787678867768678",
"8a79878a978a7978a8798a79878a9798a8798a78978a7987a8798a7987a8",
"a97c89a8b97a8a9c79a8b87a9a8c79a8a97b8a8c79a8b97ac8a9b79a8a9c",
"abaa9baba9babaaba9babaa9babaa9baba9babaaba9babaa9babaa9babaa"];
const b3Fine=[
"2.1.3.0.2.1.3.0.2.1.0.3.2.1.0.2.3.1.0.2.1.3.0.2.1.3.0.2.1.0.",
".3.0.2.1.3.0.1.2.3.0.1.2.0.3.1.2.0.1.3.2.0.1.3.0.2.1.3.0.1.2",
"1.2.0.3.1.2.0.3.1.0.2.3.1.0.2.1.3.0.2.1.0.3.1.2.0.3.1.0.2.3.",
".1.3.2.0.1.3.2.1.0.3.2.1.0.3.1.2.0.3.1.2.3.0.1.2.3.0.1.2.0.3",
"2.0.1.3.2.0.1.2.3.0.1.2.3.1.0.2.3.1.0.2.3.0.1.2.0.3.1.2.0.1.",
"..2.1..3.2..1.2..3.1..2.1..3.2..1.3..2.1..3.2..1.2..3.1..2.1",
"1..2..3.1..2..3.1..2.3..1..2.3..1.2..3..1.2..3..1.2..3.1..2.",
"..a.7..8.7..a.8..7.a..8.7..a.8..7.a..8.7..a.8..7.a..8.7..a.8",
"b..8.9..7.a..8.9..c.7..8.9..a.7..8.9..c.7..8.9..a.7..8.9..c.",
".a..c.9..a.b..9.c..a.9..b.c..a.9..c.b..a.9..c.b..a.9..c.b..a",
"c.a..9.c.a..b.9..c.a.b..9.c..a.b.9..c.a.b..9.c.a..b.9.c.a..b"];
const b3FineOct=[12.3,12.42,12.6,12.78,12.95,13.15,13.35,13.9,14.35,14.6,14.78];
const bDashes=[[7.7,12.76],[9.6,12.88],[11.5,12.98],[14,12.3],[15.5,13.12],[17,12.56],[19,12.98],[21,12.42],[23,12.72],[25,13.15],[27,12.88],[29.5,12.32],[31,12.62],[33,13.02],[35,12.85],[37,12.4],[39,12.68],[41,13],[43,12.55],[45,12.9],[47,12.3],[49,12.75],[51,12.95],[53,12.45],[55,12.85],[57,12.7],[59,13.05],[61,12.45],[63,12.9],[65,12.6],[67,12.35],[70,12.72],[72,12.98],[74,12.4],[76,12.85],[78,13.1],[80,12.55],[82,12.9],[84,12.38],[86,13.15],[88,12.7],[90,12.95],[92,12.5],[94,13.08],[96,12.65],[98,12.9],[100,12.4],[102,13.12],[104,12.75],[106,12.95],[110,12.5],[112,12.62],[114,13],[116,12.4],[118,12.98],[5,14.1],[11,14.35],[18,13.6],[24,13.75],[30,14.05],[42,13.7],[52,13.85],[60,14.05],[66,13.9],[76,14.1],[83,13.7],[90,14.2],[100,13.8],[108,13.95],[117,13.75],[8,14.65],[16,14.5],[36,14.55],[50,14.7],[70,14.6],[96,14.5]];
const bHotColumns=[[37.7,38.9,13.33,13.97,15],[37.7,38.9,13.97,14.15,13],[43,44,14.02,14.13,12],[0,1,13.65,13.72,9]];
const bDataGaps=[[107.3,108.5,9.7,10.26,-1],[107.3,108.5,12.7,13.17,-1]];
// ---------- B panel: MCA channels, 40 s columns ----------
const bMca17="a9a9c9a9a99ca9a9c9c9a9a9cc9cdcddcdbcddcddcbcddcdccbcdcacdcbcdcbcacdcb99aababbaaba99999bbabbcbabbcbbabbcbcbcbbcbbcbcbcbbcbcbbcbbaabaaabaaba9aabaa9abaaabaaba9aaba99aa9a9aaabaa9aaa9aa";
const bMca10="cdcbc9cdc9cdcbc9dc9cbcdc9cbddededdeddeedeededdeddedeeedeedeeedeeeddbbabcbcbabbcbca999abcdcbcbcdcdddddcdcddcdcdcddcdcdcdcddcdcdbcdcbcdcbcdccdcbcdcbcdcbcdcbcdcbcbc9dcbcdcbcdcbcdcbcd";
const bMca6="fefdefefdefdfedfdefefdefdefffffeffffffefffffffdffffefffffffeffffffdffdcddcddcdefeeefdddcddcdddcdffffffffffeffffffffffffffeffeffeefeeefeefeeeefeefeeefeefeeeefeefeedeedeedeeedeedeedeede";
// ---------- colour bars ----------
const barStep=1.5;
const barStepB=1;

// ---------- helpers that turn the tables above into chart datasets ----------
const OCT_PX=128/3;
function mapColor(f){
  f=Math.max(0,Math.min(1,f));
  for(let i=1;i<mapStops.length;i++){
    if(f<=mapStops[i][0]){
      const a=mapStops[i-1],b=mapStops[i],k=(f-a[0])/(b[0]-a[0]);
      return 'rgb('+a[1].map((v,j)=>Math.round(v+(b[1][j]-v)*k)).join(',')+')';
    }
  }
  return 'rgb(255,0,176)';
}
const levelColor=l=>l<0?'#000000':mapColor(l/15);
const charLevel=c=>c==='x'?-1:parseInt(c,16);
function barSet(data,colors,px){
  return {type:'bar',grouped:false,barThickness:px,data,backgroundColor:colors,borderWidth:0};
}
function gridSet(rows,top,bottom){
  const h=(bottom-top)/rows.length,data=[],colors=[];
  rows.forEach((s,r)=>{
    const w=120/s.length;let c=0;
    while(c<s.length){
      let e=c+1;while(e<s.length&&s[e]===s[c])e++;
      data.push({y:top+(r+.5)*h,x:[c*w,e*w]});colors.push(levelColor(charLevel(s[c])));c=e;
    }
  });
  return barSet(data,colors,h*OCT_PX+.7);
}
function rowsSet(levels,top,bottom){
  const h=(bottom-top)/levels.length;
  return barSet(levels.map((l,r)=>({y:top+(r+.5)*h,x:[0,120]})),levels.map(levelColor),h*OCT_PX+.5);
}
function speckSet(rows,octs,px,wide){
  const data=[],colors=[];
  rows.forEach((s,r)=>{
    const w=120/s.length;
    for(let c=0;c<s.length;c++){
      if(s[c]==='.')continue;
      const t=(c+((c*3+r*5)%7)/7)*w;
      data.push({y:octs[r],x:[t,t+wide]});colors.push(levelColor(charLevel(s[c])));
    }
  });
  return barSet(data,colors,px);
}
function patchSet(list,step){
  const data=[],colors=[];
  list.forEach(p=>{
    for(let o=p[2];o<p[3]-1e-6;o+=step){data.push({y:o+step/2,x:[p[0],p[1]]});colors.push(levelColor(p[4]));}
  });
  return barSet(data,colors,step*OCT_PX+.6);
}
function pointsSet(pts,w,px,level){
  return barSet(pts.map(p=>({y:p[1],x:[p[0],p[0]+w]})),pts.map(p=>levelColor(p.length>2?p[2]:level)),px);
}
function streakSet(list,top,bottom,w){
  const mid=(top+bottom)/2;
  return barSet(list.map(s=>({y:mid,x:[s[0],s[0]+w]})),list.map(s=>levelColor(s[1])),(bottom-top)*OCT_PX);
}
function zipSet(ts,os,px,w,level){
  return barSet(ts.map((t,i)=>({y:os[i],x:[t-w/2,t+w/2]})),ts.map(()=>levelColor(level)),px);
}
function traceSets(){
  const line=(ts,os,width)=>({type:'scatter',indexAxis:'x',showLine:true,pointRadius:0,borderColor:'#ffffff',borderWidth:width,data:ts.map((t,i)=>({x:t,y:os[i]}))});
  const dots=(ts,os)=>({type:'scatter',indexAxis:'x',pointStyle:'rect',pointRadius:1.9,pointBorderWidth:0,backgroundColor:'#ffffff',borderWidth:0,data:ts.map((t,i)=>({x:t,y:os[i]}))});
  return [line(traceT,traceOct,2),line(traceTailT,traceTailOct,1.4),dots(traceTailT,traceTailOct),
    dots(traceDots.map(p=>p[0]),traceDots.map(p=>p[1]))];
}
function stripSets(top){
  const h=(30/3)/OCT_PX;
  const rows=barSet(stripColors.map((c,i)=>({y:top+(i+.5)*h,x:[-.15,120]})),stripColors,10.4);
  const gap=barSet([{y:top+1.5*h,x:[gapTime,gapTime+.15]}],['#ffffff'],30);
  return [rows,gap];
}

// ---------- E datasets, painted in this order ----------
const eSets=[
  ...stripSets(-.96),
  barSet(memTicks.map(t=>({y:-.83,x:[t,t+.13]})),memTicks.map(()=>'#ff0000'),11),
  rowsSet(e1Rows,0,3),
  speckSet(e1Specks,e1SpeckRows.map(r=>(r+.5)*3/64),2,.35),
  streakSet(e1BlobHalo,1.15,2.9,.2),
  patchSet(e1Blobs,.05),
  streakSet(e1BlobLines,1.75,2.5,.2),
  pointsSet(e1Faint,.2,14,3.2),
  rowsSet([-1],3,6),
  barSet(e2Line.split('').map((c,i)=>c==='.'?null:{y:4.15,x:[i,i+.6]}).filter(Boolean),e2Line.split('').filter(c=>c!=='.').map(()=>levelColor(1)),2.2),
  pointsSet(e2Dots,.25,2.2),
  pointsSet(e3TopBlue,.3,2.2,1),
  pointsSet(ribbonFuzz,.4,2.2),
  zipSet(ribbonT,ribbonOct,5,2.2,3),
  zipSet(ribbonT.slice(5,14),ribbonOct.slice(5,14),10,2.2,3.1),
  zipSet(ribbonT.slice(13,26),ribbonOct.slice(13,26),14,2.2,3),
  zipSet(ribbonCoreT,ribbonCoreOct,4,4,4),
  streakSet(e3Tops,5.39,5.85,.18),
  streakSet(e3TopsShort,5.58,5.85,.18),
  gridSet(e3Grid,5.74,9),
  streakSet(e3CoolStreaks,5.9,9,.2),
  streakSet(e3TallStreaks,5.9,9,.17),
  streakSet(e3LowStreaks,7.5,9,.18),
  speckSet(e3Specks,e3Grid.map((_,r)=>5.9+(r+.5)*3.1/14),2.4,.25),
  streakSet(e3Tips,8.55,9,.17),
  patchSet(e3Patches,.05),
  patchSet(e2Columns,.05),
  gridSet(e4Grid,9,12),
  speckSet(e4Fine,e4FineOct,2.4,.9),
  rowsSet(e5Rows,12,15),
  pointsSet(e5Hot,1.1,3,12),
  pointsSet(eDashes,.95,1.7,-1),
  rowsSet([eMcaRed],15,15.75),
  streakSet(eMcaStripes.map(t=>[t,12.6]),15,15.75,.3),
  rowsSet([eMcaLow],15.75,17.28),
  patchSet(eHotColumns,.05),
  patchSet(dataGaps,.05),
  barSet([{y:8.64,x:[gapTime,gapTime+.1]}],['#000000'],737.3),
  barSet([{y:1.5,x:[gapTime-.03,gapTime+.2]}],['#000000'],128),
  ...traceSets()
];
// ---------- B datasets ----------
const bSets=[
  ...stripSets(5.04),
  rowsSet(b1Rows,6,9),
  speckSet(b1Specks,b1SpeckOct,2.4,.33),
  gridSet(b2Grid,9,12),
  speckSet(b2Fine,b2FineOct,2.2,.9),
  gridSet(b3Grid,12,15),
  speckSet(b3Fine,b3FineOct,2.2,.9),
  pointsSet(bDashes,.95,1.7,-1),
  patchSet(bHotColumns,.05),
  patchSet(bDataGaps,.05),
  gridSet([bMca17],15,15.75),
  gridSet([bMca10],15.75,16.5),
  gridSet([bMca6],16.5,17.26),
  barSet([{y:11.63,x:[gapTime,gapTime+.1]}],['#000000'],481),
  barSet([{y:6.6,x:[gapTime-.03,gapTime+.2]}],['#000000'],52),
  barSet([{y:8.55,x:[gapTime-.03,gapTime+.2]}],['#000000'],38),
  ...traceSets()
];

// ---------- chart plumbing ----------
const TEXT_SIZE=28,TEXT_SCALE=12/(28*.6);
const FONT={family:'"Liberation Mono",monospace',size:TEXT_SIZE};
const narrowText={id:'narrowText',beforeInit(chart){
  const ctx=chart.ctx,orig=ctx.fillText.bind(ctx);
  ctx.fillText=function(s,x,y){ctx.save();ctx.translate(x,y);ctx.scale(TEXT_SCALE,1);orig(s,0,0);ctx.restore();};
}};
function panelPlugin(cfg){return {id:'panelMarks',afterDatasetsDraw(chart){
  const {ctx,chartArea:a,scales:{y}}=chart;
  ctx.save();ctx.lineWidth=1;
  const hl=(o,x0,x1,c)=>{const p=Math.round(y.getPixelForValue(o))+.5;ctx.strokeStyle=c;ctx.beginPath();ctx.moveTo(x0,p);ctx.lineTo(x1,p);ctx.stroke();};
  minorTicks.filter(o=>o>=cfg.top).forEach(o=>hl(o,a.left-5.5,a.left,'#000'));
  if(cfg.top===0)hl(1.3,a.left-10,a.left,'#000');
  mcaTicks.forEach(o=>hl(o,a.left-10,a.left,'#000'));
  cfg.lines.forEach(l=>l[1].forEach(s=>hl(l[0],a.right+s[0],a.right+s[1],'#000')));
  cfg.red.forEach(o=>hl(o,a.right,a.right+8,'#ff0000'));
  ctx.strokeStyle='#000';ctx.beginPath();
  const t=y.getPixelForValue(cfg.top);
  ctx.moveTo(a.left-.5,t);ctx.lineTo(a.left-.5,a.bottom+.5);ctx.lineTo(a.right+.5,a.bottom+.5);ctx.lineTo(a.right+.5,t);
  ctx.stroke();
  ctx.restore();
}};}
function panel(id,sets,opts){
  const c=document.getElementById(id);
  return new Chart(c,{type:'bar',data:{datasets:sets.slice().reverse()},
    plugins:[narrowText,panelPlugin(opts)],
    options:{indexAxis:'y',responsive:false,animation:false,devicePixelRatio:1,events:[],
      layout:{padding:{top:opts.areaTop,right:1280-1026.5,left:0,bottom:0}},
      plugins:{legend:{display:false},tooltip:{enabled:false},title:{display:false}},
      scales:{
        x:{type:'linear',min:0,max:120,offset:false,border:{display:false},
          grid:{drawOnChartArea:false,tickLength:9,tickColor:'#000',offset:false},
          afterFit:s=>{s.height=opts.xHeight;},
          ticks:{stepSize:20,autoSkip:false,maxRotation:0,padding:0,color:'#000',font:FONT,callback:v=>timeLabels[v/20]}},
        y:{type:'linear',reverse:true,min:opts.min,max:opts.max,offset:false,border:{display:false},
          grid:{drawOnChartArea:false,tickLength:16,offset:false,tickColor:c=>(c.tick&&c.tick.value>15)?'rgba(0,0,0,0)':'#000'},
          afterFit:s=>{s.width=126;},
          afterBuildTicks:s=>{s.ticks=opts.ticks.map(v=>({value:v}));},
          ticks:{autoSkip:false,padding:.5,labelOffset:-2,color:'#000',font:FONT,callback:v=>opts.labels[opts.ticks.indexOf(v)]}}
      }}});
}
panel('cE',eSets,{areaTop:59,xHeight:42.7,min:-.96,max:17.28,ticks:eFreqTicks,labels:eFreqLabels,top:0,red:eDensityTicks,
  lines:[[0,[[0,40]]],[3,[[0,40]]],[6,[[0,9],[33,40]]],[9,[[0,40]]],[12,[[0,40]]],[15,[[0,40]]]]});
panel('cB',bSets,{areaTop:19,xHeight:59.3,min:5.04,max:17.26,ticks:bFreqTicks,labels:bFreqLabels,top:6,red:bFieldTicks,
  lines:[[6,[[0,40]]],[9,[[0,40]]],[12,[[0,40]]],[15,[[0,9],[21,40]]]]});

function colorBar(id,lo,hi,step,ticks,top,bottom){
  const levels=[];for(let v=lo;v<hi;v+=step)levels.push(v+step/2);
  const h=(bottom-top)/((hi-lo)/step);
  new Chart(document.getElementById(id),{type:'bar',
    data:{datasets:[{grouped:false,barThickness:h+.6,borderWidth:0,data:levels.map(v=>({y:v,x:[0,1]})),backgroundColor:levels.map(v=>mapColor((v-lo)/(hi-lo)))}]},
    plugins:[narrowText,{id:'frame',afterDatasetsDraw(ch){const a=ch.chartArea,x=ch.ctx;x.save();x.strokeStyle='#000';x.strokeRect(a.left-.5,a.top-.5,a.width+1,a.height+1);x.restore();}}],
    options:{indexAxis:'y',responsive:false,animation:false,devicePixelRatio:1,events:[],
      layout:{padding:{left:10.5,right:27.4,top:top,bottom:300-bottom}},
      plugins:{legend:{display:false},tooltip:{enabled:false}},
      scales:{
        x:{type:'linear',min:0,max:1,display:false,offset:false},
        y:{type:'linear',position:'right',min:lo,max:hi,offset:false,border:{display:false},
          grid:{drawOnChartArea:false,tickLength:8,tickColor:'#000',offset:false},
          afterFit:s=>{s.width=61;},
          afterBuildTicks:s=>{s.ticks=ticks.map(v=>({value:v}));},
          ticks:{autoSkip:false,padding:0,labelOffset:-9,crossAlign:'far',color:'#000',font:FONT,callback:v=>String(v)}}
      }}});
}
colorBar('cbE',-175,-85,barStep,eColorTicks,20,277);
colorBar('cbB',-100,-50,barStepB,bColorTicks,19.5,275.7);

// ---------- page text ----------
const RED='#ff0000',BLUE='#0000ff',CYAN='#00ffff',MAG='#ff00ff';
const notes=[
 ['GEOTAIL  PWI SFA & MCA   DATE = 970720',125,21],
 ['E',4,99],['B',4,940],['f(Hz)',4,440],['f(Hz)',4,1131],['UT',4,861],['UT',4,1444],
 ['GSMX',4,1473],['GSMY',4,1502],['GSMZ',4,1532],
 ['MemR',1175,213],['MemW',1175,243,RED],['Sing',1175,273,BLUE],['Dual',1175,303,CYAN],
 ['Ex Bx',1175,414,BLUE],['Ey Bz',1175,443,RED],['PWI',1175,913],['MGF',1175,942,MAG],
 ['10',1036,323,RED],['5',1046,346,RED],['1',1048,395,RED],['.1',1038,467,RED],['.01',1038,544,RED],['[/cc]',1034,714,RED],['MCA',1040,794],
 ['50',1036,1083,RED],['10',1036,1179,RED],['5',1036,1235,RED],['1',1036,1319,RED],['[nT]',1053,1306,RED],['MCA',1040,1379],
 ['New Calibration Table (from Oct. 10, 1995)',675,1576,BLUE]
];
function addText(text,x,y,color,right){
  const d=document.createElement('div');d.className='t';d.innerHTML=text;
  d.style.top=y+'px';
  if(right){d.style.right=(1280-x)+'px';d.style.transformOrigin='right center';}
  else{d.style.left=x+'px';d.style.transformOrigin='left center';}
  d.style.transform='translateY(-50%) scaleX('+TEXT_SCALE+')';
  if(color)d.style.color=color;
  document.body.appendChild(d);
}
notes.forEach(n=>addText(n[0].replace('&','&amp;'),n[1],n[2],n[3]));
addText('dBV/m/√<span class="ov">Hz</span>',1099,539);
addText('dBnT/√<span class="ov">Hz</span>',1099,1039);
[gsmX,gsmY,gsmZ].forEach((row,r)=>row.forEach((v,i)=>addText(v,153+i*150,[1473,1502,1532][r],null,true)));
const swatches=[[200,'#000'],[230,RED],[260,BLUE],[290,CYAN],[400,BLUE],[430,RED],[900,'#000'],[930,MAG]];
swatches.forEach(s=>{const d=document.createElement('div');d.style.cssText='position:absolute;left:1125px;width:30px;height:10px;top:'+s[0]+'px;background:'+s[1];document.body.appendChild(d);});
</script></body></html>
